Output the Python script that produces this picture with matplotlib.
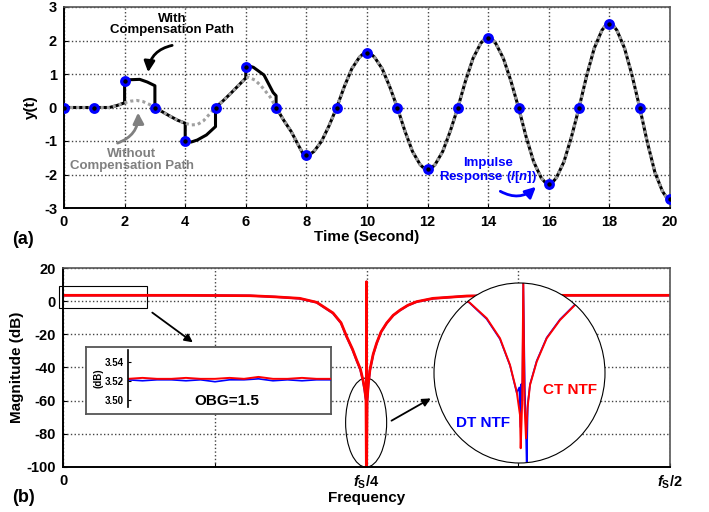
import matplotlib
matplotlib.use("Agg")
import matplotlib.pyplot as plt
from matplotlib.patches import Ellipse, Rectangle

plt.rcParams['font.family'] = ['Liberation Sans', 'DejaVu Sans']
plt.rcParams['font.weight'] = 'bold'
plt.rcParams['axes.labelweight'] = 'bold'
plt.rcParams['axes.unicode_minus'] = False
plt.rcParams['mathtext.fontset'] = 'custom'
plt.rcParams['mathtext.it'] = 'Liberation Sans:italic:bold'
plt.rcParams['mathtext.rm'] = 'Liberation Sans:bold'
plt.rcParams['mathtext.bf'] = 'Liberation Sans:bold'

# ---- (a) impulse response ----
n_samples = list(range(21))
l_n = [0, 0, 0.78, 0, -1.0, 0, 1.22, 0, -1.42, 0, 1.63, 0, -1.85, 0, 2.08, 0, -2.28, 0, 2.5, 0, -2.72]

# with compensation path (jumps at the sampling instants), up to t = 7
t_comp = [0, 0.5, 1, 1.5, 1.75, 2, 2, 2.2, 2.5, 2.75, 3, 3, 3.25, 3.5, 3.75, 4, 4, 4.2, 4.4, 4.7, 5, 5,
          5.25, 5.5, 5.75, 6, 6, 6.1, 6.25, 6.6, 6.9, 7, 7]
y_comp = [0, 0, 0, 0, 0.06, 0.14, 0.78, 0.83, 0.84, 0.76, 0.65, 0, -0.13, -0.26, -0.38, -0.47, -1.0, -1.03,
          -0.97, -0.82, -0.57, 0, 0.2, 0.42, 0.65, 0.88, 1.22, 1.24, 1.2, 0.97, 0.45, 0.35, 0]

# without compensation path, up to t = 7
t_nocomp = [0, 0.5, 1, 1.5, 1.75, 2, 2.2, 2.4, 2.6, 2.8, 3, 3.25, 3.5, 3.75, 4, 4.2, 4.4, 4.6, 4.8, 5,
            5.25, 5.5, 5.75, 6, 6.1, 6.3, 6.5, 6.8, 7]
y_nocomp = [0, 0, 0, 0, 0.06, 0.14, 0.19, 0.21, 0.18, 0.1, 0.0, -0.13, -0.26, -0.38, -0.47, -0.52, -0.51,
            -0.4, -0.2, 0, 0.2, 0.42, 0.65, 0.88, 0.9, 0.82, 0.65, 0.32, 0.0]

# both curves are the same after t = 7
t_tail = [7.25, 7.5, 7.75, 7.875, 8, 8.125, 8.25, 8.5, 8.75, 9,
          9.25, 9.5, 9.75, 9.875, 10, 10.125, 10.25, 10.5, 10.75, 11,
          11.25, 11.5, 11.75, 11.875, 12, 12.125, 12.25, 12.5, 12.75, 13,
          13.25, 13.5, 13.75, 13.875, 14, 14.125, 14.25, 14.5, 14.75, 15,
          15.25, 15.5, 15.75, 15.875, 16, 16.125, 16.25, 16.5, 16.75, 17,
          17.25, 17.5, 17.75, 17.875, 18, 18.125, 18.25, 18.5, 18.75, 19,
          19.25, 19.5, 19.75, 19.875, 20]
y_tail = [-0.38, -0.72, -1.15, -1.36, -1.42, -1.39, -1.31, -1.01, -0.54, 0,
          0.62, 1.16, 1.50, 1.60, 1.63, 1.60, 1.50, 1.16, 0.62, 0,
          -0.70, -1.31, -1.70, -1.81, -1.85, -1.81, -1.70, -1.31, -0.70, 0,
          0.79, 1.47, 1.91, 2.04, 2.08, 2.04, 1.91, 1.47, 0.79, 0,
          -0.87, -1.62, -2.10, -2.23, -2.28, -2.23, -2.10, -1.62, -0.87, 0,
          0.95, 1.77, 2.30, 2.45, 2.50, 2.45, 2.30, 1.77, 0.95, 0,
          -1.03, -1.93, -2.50, -2.67, -2.72]

# ---- (b) NTF magnitude, frequency normalised to fs ----
freq = [0, 0.05, 0.10, 0.13, 0.154, 0.175, 0.195, 0.209, 0.2224, 0.229, 0.2337, 0.2385, 0.2419, 0.245,
        0.2471, 0.2485, 0.2496, 0.2499, 0.25, 0.2501, 0.2505, 0.2515, 0.2528, 0.2555, 0.2584, 0.262,
        0.2666, 0.272, 0.2776, 0.284, 0.2913, 0.3048, 0.3325, 0.36, 0.40, 0.45, 0.5]
ct_db = [3.52, 3.52, 3.5, 3.4, 3.3, 2.6, 1.7, -0.7, -7.1, -13, -21.4, -29, -35.5, -41, -47.6, -53, -59.6,
         -100, 11.7, -100, -60, -50, -41.5, -32, -25.2, -18.5, -13.2, -8.5, -5.4, -2.5, -0.3, 1.7, 3.1,
         3.4, 3.5, 3.52, 3.52]
dt_db = [3.52, 3.52, 3.5, 3.4, 3.3, 2.6, 1.6, -0.8, -7.3, -13.2, -21.6, -29.3, -35.8, -41.5, -48, -54, -60,
         -100, 11.7, -100, -61, -50.5, -41.8, -32.2, -25.4, -18.6, -13.3, -8.6, -5.5, -2.6, -0.4, 1.6, 3.1,
         3.4, 3.5, 3.52, 3.52]

# zoom around fs/4 (circle)
ct_zoom_f = [0.2425, 0.2446, 0.24634, 0.24767, 0.24867, 0.24934, 0.24967, 0.24974, 0.24988, 0.25, 0.25012,
             0.25027, 0.25042, 0.25067, 0.25134, 0.25234, 0.25367, 0.25517, 0.2565]
ct_zoom_db = [5, -0.7, -10.3, -22.4, -38.5, -54.6, -68.7, -88.7, -62, 11, -62, -82.7, -64.6, -50.6, -36.5,
              -22.4, -11.4, -2.3, 4]
dt_zoom_f = [0.2425, 0.2446, 0.24634, 0.24767, 0.24867, 0.24934, 0.2496, 0.24972, 0.2498, 0.2499, 0.25,
             0.25015, 0.25025, 0.25034, 0.25045, 0.25067, 0.25134, 0.25234, 0.25367, 0.25517, 0.2565]
dt_zoom_db = [5, -0.9, -10.8, -22.9, -38.8, -55.2, -52, -76, -50, -60, 11, -52, -74, -100, -62, -50.2, -36.0,
              -22.0, -11.0, -2.0, 4]

# zoom of the in-band level (rectangle)
obg_f = [0, 0.005, 0.01, 0.015, 0.02, 0.025, 0.03, 0.035, 0.04, 0.045, 0.05, 0.055, 0.06, 0.065, 0.07]
ct_flat = [3.522, 3.523, 3.522, 3.522, 3.523, 3.522, 3.522, 3.523, 3.522, 3.524, 3.522, 3.522, 3.523, 3.522, 3.522]
dt_flat = [3.521, 3.520, 3.521, 3.521, 3.520, 3.521, 3.519, 3.521, 3.521, 3.522, 3.520, 3.521, 3.520, 3.521, 3.521]

W, H = 709, 512
fig = plt.figure(figsize=(W / 100, H / 100), dpi=100)


def px_axes(x0, y0, x1, y1):
    # box given in image pixels, origin top-left
    return fig.add_axes([x0 / W, 1 - y1 / H, (x1 - x0) / W, (y1 - y0) / H])


def bold_ticks(ax):
    for lab in ax.get_xticklabels() + ax.get_yticklabels():
        lab.set_fontweight('bold')


def style_frame(ax):
    for s in ['left', 'bottom']:
        ax.spines[s].set_color('black')
        ax.spines[s].set_linewidth(1.4)
    for s in ['top', 'right']:
        ax.spines[s].set_color('#555555')
        ax.spines[s].set_linewidth(1.2)
    ax.grid(True, ls=':', color='#444444', lw=1.0)
    ax.tick_params(direction='in', length=3, labelsize=10.5, pad=5)
    bold_ticks(ax)


# ---------------- (a) ----------------
ax1 = px_axes(64, 7, 670, 208)
ax1.plot(t_comp + t_tail, y_comp + y_tail, color='black', lw=2.2, zorder=3)
ax1.plot(t_nocomp + t_tail, y_nocomp + y_tail, color='#a0a0a0', lw=2.2, ls=(0, (1, 1)), zorder=4)
ax1.plot(n_samples, l_n, ls='none', marker='o', ms=5.5, mfc='black', mec='#0000ff', mew=2.3, zorder=5)
ax1.set_xlim(0, 20)
ax1.set_ylim(-3, 3)
ax1.set_xticks(range(0, 21, 2))
ax1.set_yticks(range(-3, 4))
style_frame(ax1)
ax1.set_xlabel('Time (Second)', fontsize=11, fontweight='bold', labelpad=1)
ax1.set_ylabel('y(t)', fontsize=11, fontweight='bold', labelpad=4)

ax1.text(3.56, 2.48, 'With\nCompensation Path', ha='center', va='center', fontsize=9.5,
         fontweight='bold', linespacing=0.95)
ax1.annotate('', xy=(2.77, 0.97), xytext=(3.66, 1.87),
             arrowprops=dict(arrowstyle='-|>', color='black', lw=2, mutation_scale=16,
                             connectionstyle='arc3,rad=0.4'))
ax1.text(2.24, -1.57, 'Without\nCompensation Path', ha='center', va='center', fontsize=9.5,
         fontweight='bold', color='#808080', linespacing=0.95)
ax1.annotate('', xy=(2.44, -0.07), xytext=(1.68, -1.09),
             arrowprops=dict(arrowstyle='-|>', color='#808080', lw=2, mutation_scale=16,
                             connectionstyle='arc3,rad=0.4'))
ax1.text(14.0, -1.9, 'Impulse\nResponse ($l$[$n$])', ha='center', va='center', fontsize=9.5,
         fontweight='bold', color='#0000ff', linespacing=0.95)
ax1.annotate('', xy=(15.64, -2.31), xytext=(14.32, -2.46),
             arrowprops=dict(arrowstyle='-|>', color='#0000ff', lw=2, mutation_scale=16,
                             connectionstyle='arc3,rad=0.4'))
fig.text(12 / W, 1 - 240 / H, '(a)', fontsize=13, fontweight='bold', va='center', ha='left')

# ---------------- (b) ----------------
ax2 = px_axes(63, 268, 670, 467)
ax2.plot(freq, dt_db, color='#0000ff', lw=1.5)
ax2.plot(freq, ct_db, color='red', lw=2)
ax2.set_xlim(0, 0.5)
ax2.set_ylim(-100, 20)
ax2.set_xticks([0, 0.125, 0.25, 0.375, 0.5])
ax2.set_xticklabels(['0', '', r'$f_\mathrm{S}$/4', '', r'$f_\mathrm{S}$/2'])
ax2.set_yticks(range(-100, 21, 20))
style_frame(ax2)
ax2.set_xlabel('Frequency', fontsize=11, fontweight='bold', labelpad=0)
ax2.set_ylabel('Magnitude (dB)', fontsize=11, fontweight='bold', labelpad=2)
fig.text(12 / W, 1 - 497 / H, '(b)', fontsize=13, fontweight='bold', va='center', ha='left')

ax2.add_patch(Rectangle((-0.0033, -4.1), 0.0725, 13.2, fill=False, lw=0.8, ec='black', clip_on=False))
ax2.annotate('', xy=(0.1088, -25.8), xytext=(0.0717, -5.9),
             arrowprops=dict(arrowstyle='-|>', color='black', lw=1.3, mutation_scale=12))
ax2.add_patch(Ellipse((0.2497, -73.2), 0.0338, 53.7, fill=False, lw=0.8, ec='black', clip_on=False))
ax2.annotate('', xy=(0.3049, -57.8), xytext=(0.2686, -72.9),
             arrowprops=dict(arrowstyle='-|>', color='black', lw=1.3, mutation_scale=12))

# rectangle inset
box = px_axes(86, 347, 331, 414)
box.set_xticks([])
box.set_yticks([])
for s in box.spines.values():
    s.set_color('#555555')
    s.set_linewidth(1.3)
axz = px_axes(128, 350, 331, 407)
axz.patch.set_alpha(0)
axz.plot(obg_f, dt_flat, color='#0000ff', lw=1.2)
axz.plot(obg_f, ct_flat, color='red', lw=1.4)
axz.set_xlim(0, 0.07)
axz.set_ylim(3.4927, 3.552)
axz.set_yticks([3.50, 3.52, 3.54])
axz.set_yticklabels(['3.50', '3.52', '3.54'])
axz.set_xticks([])
for s in ['top', 'right', 'bottom']:
    axz.spines[s].set_visible(False)
axz.spines['left'].set_linewidth(1.2)
axz.tick_params(axis='y', direction='in', length=2.5, labelsize=7, pad=3)
bold_ticks(axz)
axz.set_ylabel('(dB)', fontsize=7, fontweight='bold', labelpad=1)
fig.text(227 / W, 1 - 401 / H, 'OBG=1.5', fontsize=11, fontweight='bold', ha='center', va='center')

# circle inset around fs/4
axc = px_axes(434, 283, 605, 463)
axc.axis('off')
circ = Ellipse((0.5, 0.5), 1, 1, transform=axc.transAxes, fc='white', ec='none', zorder=1)
axc.add_patch(circ)
l1, = axc.plot(dt_zoom_f, dt_zoom_db, color='#0000ff', lw=1.2, zorder=2)
l2, = axc.plot(ct_zoom_f, ct_zoom_db, color='red', lw=1.4, zorder=3)
l1.set_clip_path(circ)
l2.set_clip_path(circ)
axc.add_patch(Ellipse((0.5, 0.5), 1, 1, transform=axc.transAxes, fc='none', ec='black', lw=0.8, zorder=4,
                      clip_on=False))
axc.set_xlim(0.24107, 0.25817)
axc.set_ylim(-97.6, 10.95)
axc.text(0.287, 0.222, 'DT NTF', transform=axc.transAxes, color='#0000ff', fontsize=11,
         fontweight='bold', ha='center', va='center')
axc.text(0.795, 0.406, 'CT NTF', transform=axc.transAxes, color='red', fontsize=11,
         fontweight='bold', ha='center', va='center')

fig.savefig('out.png', dpi=100)
